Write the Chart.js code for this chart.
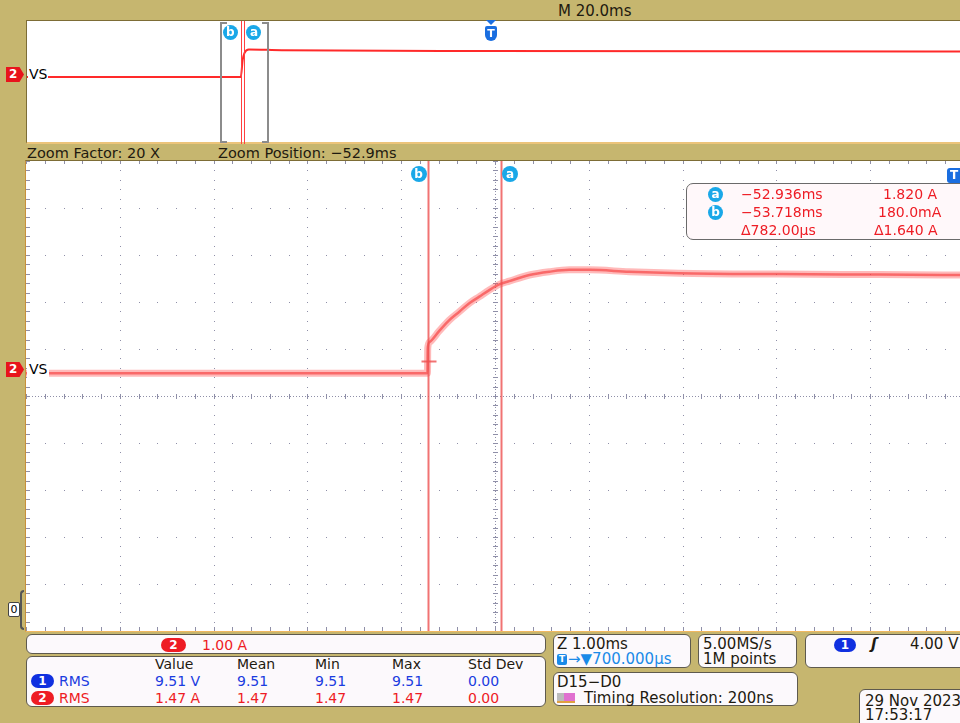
<!DOCTYPE html>
<html>
<head>
<meta charset="utf-8">
<script src="https://cdn.jsdelivr.net/npm/chart.js@4.4.0/dist/chart.umd.min.js"></script>
<style>
  body { margin:0; width:960px; height:723px; overflow:hidden; background:#c6b66f;
         font-family:"DejaVu Sans", sans-serif; position:relative; }
  .abs { position:absolute; white-space:nowrap; }
  .t14 { font-size:14px; line-height:16px; }
  .t15 { font-size:15px; line-height:17px; }
  .panel { position:absolute; background:#fcf9fc; border:1px solid #5e5a4e; border-radius:6px; box-sizing:border-box; }
  .cur { position:absolute; width:15px; height:15px; border-radius:50%; background:#1aa8e8; color:#fff;
         font:bold 12px/14px "DejaVu Sans", sans-serif; text-align:center; }
  .tag { position:absolute; width:18px; height:15px; background:#e8141c; color:#fff;
         font:bold 12px/15px "DejaVu Sans", sans-serif; padding-left:3px; box-sizing:border-box;
         clip-path:polygon(0 0, 75% 0, 100% 50%, 75% 100%, 0 100%); }
  .pill { position:absolute; height:14px; border-radius:7px; color:#fff; text-align:center;
          font:bold 12px/14px "DejaVu Sans", sans-serif; }
  .red { color:#ee1c24; } .blue { color:#1a3ce0; } .lblue { color:#1a8ae8; } .dark { color:#1e1a10; }
</style>
</head>
<body>
<!-- top bar -->
<div class="abs t15 dark" style="left:558px;top:3px;">M 20.0ms</div>

<!-- overview window -->
<div class="abs" style="left:26px;top:20px;width:940px;height:124px;background:#fff;border-top:1px solid #7d6d36;border-left:1px solid #7d6d36;border-bottom:2px solid #ecc47a;box-sizing:border-box;"></div>
<div class="abs" style="left:27px;top:21px;"><canvas id="overview" width="938" height="123"></canvas></div>
<div class="tag" style="left:6px;top:67px;">2</div>
<div class="abs t14" style="left:28px;top:66px;background:#fff;padding:0 1px;">VS</div>
<div class="abs" style="left:486px;top:20px;width:0;height:0;border-left:5px solid transparent;border-right:5px solid transparent;border-top:5px solid #1a6ee0;"></div>
<div class="abs" style="left:485px;top:26px;width:12px;height:15px;background:#1a6ee0;border-radius:2px 2px 6px 6px;color:#fff;font:bold 11px/15px 'DejaVu Sans';text-align:center;">T</div>
<div class="cur" id="ovB">b</div>
<div class="cur" id="ovA">a</div>

<!-- zoom info bar -->
<div class="abs dark" style="left:27px;top:145px;font-size:14.5px;line-height:17px;">Zoom Factor: 20 X</div>
<div class="abs dark" style="left:218px;top:145px;font-size:14.5px;line-height:17px;">Zoom Position: &minus;52.9ms</div>

<!-- main zoom window -->
<div class="abs" style="left:25px;top:160px;width:945px;height:472px;background:#fff;border-top:1px solid #7d6d36;border-left:1px solid #c8903a;border-bottom:1px solid #f0b860;box-sizing:border-box;"></div>
<div class="abs" style="left:26px;top:161px;"><canvas id="zoomChart" width="938" height="470"></canvas></div>
<div class="tag" style="left:6px;top:362px;">2</div>
<div class="abs t14" style="left:27px;top:361px;background:#fff;padding:0 2px 1px 2px;">VS</div>
<div class="cur" id="mainB" style="width:16px;height:16px;line-height:16px;">b</div>
<div class="cur" id="mainA" style="width:16px;height:16px;line-height:16px;">a</div>
<div class="abs" style="left:947px;top:168px;width:16px;height:15px;background:#1a6ee0;border-radius:3px;color:#fff;font:bold 12px/15px 'DejaVu Sans';padding-left:3px;box-sizing:border-box;">T</div>

<!-- cursor readout -->
<div class="panel" style="left:686px;top:183px;width:290px;height:57px;border-color:#6a6a6a;border-radius:7px;background:#fff8fa;"></div>
<div class="cur" style="left:708px;top:187px;">a</div>
<div class="cur" style="left:708px;top:205px;">b</div>
<div class="abs t14 red" style="left:741px;top:186px;">&minus;52.936ms</div>
<div class="abs t14 red" style="left:883px;top:186px;">1.820 A</div>
<div class="abs t14 red" style="left:741px;top:204px;">&minus;53.718ms</div>
<div class="abs t14 red" style="left:878px;top:204px;">180.0mA</div>
<div class="abs t14 red" style="left:741px;top:222px;">&Delta;782.00&micro;s</div>
<div class="abs t14 red" style="left:874px;top:222px;">&Delta;1.640 A</div>

<!-- digital group marker -->
<div class="abs" style="left:8px;top:602px;width:12px;height:15px;background:#fff;border:1px solid #444;border-radius:2px;box-sizing:border-box;font:11px/13px 'DejaVu Sans';text-align:center;">0</div>
<div class="abs" style="left:20px;top:590px;width:4px;height:40px;border:2px solid #555;border-right:none;border-radius:4px 0 0 4px;box-sizing:border-box;"></div>

<!-- bottom panels -->
<div class="panel" style="left:26px;top:634px;width:520px;height:20px;"></div>
<div class="pill" style="left:161px;top:638px;width:25px;background:#ee1c24;">2</div>
<div class="abs t14 red" style="left:202px;top:637px;">1.00 A</div>

<div class="panel" id="statPanel" style="left:26px;top:656px;width:520px;height:51px;"></div>

<div class="panel" style="left:553px;top:634px;width:138px;height:34px;"></div>
<div class="abs t15 dark" style="left:557px;top:636px;">Z 1.00ms</div>
<div class="abs" style="left:557px;top:654px;width:10px;height:11px;background:#1a8ae8;color:#fff;font:bold 9px/11px 'DejaVu Sans';text-align:center;border-radius:2px;">T</div>
<div class="abs t15 lblue" style="left:568px;top:651px;">&rarr;&#9660;700.000&micro;s</div>

<div class="panel" style="left:698px;top:634px;width:99px;height:34px;"></div>
<div class="abs t15 dark" style="left:703px;top:636px;">5.00MS/s</div>
<div class="abs t15 dark" style="left:703px;top:651px;">1M points</div>

<div class="panel" style="left:805px;top:634px;width:170px;height:34px;"></div>
<div class="pill" style="left:834px;top:638px;width:22px;background:#1030e0;">1</div>
<div class="abs t15 dark" style="left:871px;top:636px;font-style:italic;font-weight:bold;">&#643;</div>
<div class="abs t15 dark" style="left:910px;top:636px;">4.00 V</div>

<div class="panel" style="left:553px;top:672px;width:245px;height:34px;"></div>
<div class="abs t15 dark" style="left:557px;top:674px;">D15&minus;D0</div>
<div class="abs" style="left:557px;top:693px;width:18px;height:10px;background:linear-gradient(90deg,#bbb 0 40%,#e070d0 40% 100%);border-bottom:2px solid #e0a040;box-sizing:border-box;"></div>
<div class="abs t15 dark" style="left:584px;top:690px;">Timing Resolution: 200ns</div>

<div class="panel" style="left:859px;top:689px;width:120px;height:40px;"></div>
<div class="abs t15 dark" style="left:865px;top:693px;">29 Nov 2023</div>
<div class="abs t15 dark" style="left:865px;top:707px;">17:53:17</div>

<script>
// zoomed window (Z 1.00ms/div, ch2 1.00 A/div)
const zoomTime = [-58.0, -56.0, -54.5, -53.72, -53.717, -53.700, -53.594, -53.487, -53.380, -53.274, -53.167, -53.061, -52.954, -52.848, -52.634, -52.421, -52.208, -51.99, -51.57, -51.04, -49.97, -48.9, -48.0];
const zoomAmps = [-0.08, -0.08, -0.08, -0.08, 0.45, 0.58, 0.82, 1.05, 1.23, 1.41, 1.55, 1.69, 1.81, 1.88, 2.01, 2.08, 2.12, 2.12, 2.08, 2.05, 2.03, 2.02, 2.01];

// full record (M 20.0ms/div)
const ovTime = [-99.3, -53.72, -53.3, -52.94, -52.0, -45.0, 0.0, 50.0, 100.7];
const ovAmps = [-0.12, -0.12, 1.30, 1.82, 2.12, 2.06, 2.0, 1.97, 1.95];

// cursors a and b
const cursorNames = ['a', 'b'];
const cursorTimes = [-52.936, -53.718];
const cursorAmps = [1.820, 0.180];

// zoom window in the record, ms
const zoomWindow = [-58.0, -48.0];
const recordWindow = [-99.3, 100.7];
// ch2 vertical range shown, A
const ampRange = [-5.564, 4.436];

// measurement table
const statHeads = ['Value', 'Mean', 'Min', 'Max', 'Std Dev'];
const ch1Stats = ['9.51 V', '9.51', '9.51', '9.51', '0.00'];
const ch2Stats = ['1.47 A', '1.47', '1.47', '1.47', '0.00'];

const statCols = [155, 237, 315, 392, 468];
function addText(txt, x, y, cls) {
    var d = document.createElement('div');
    d.className = 'abs t14 ' + cls;
    d.style.left = x + 'px';
    d.style.top = y + 'px';
    d.textContent = txt;
    document.body.appendChild(d);
}
statHeads.forEach((h, i) => addText(h, statCols[i], 656, 'dark'));
statCols.forEach((x, i) => {
    addText(ch1Stats[i], x, 673, 'blue');
    addText(ch2Stats[i], x, 690, 'red');
});
[['1', '#1030e0', 674, 'blue'], ['2', '#ee1c24', 691, 'red']].forEach(r => {
    var p = document.createElement('div');
    p.className = 'pill';
    p.style.cssText = 'left:31px;top:' + r[2] + 'px;width:23px;background:' + r[1] + ';';
    p.textContent = r[0];
    document.body.appendChild(p);
    addText('RMS', 59, r[2] - 1, r[3]);
});

// scope graticule: 10 x 10 divisions, dotted at 1/5 div
const graticule = {
    id: 'graticule',
    beforeDatasetsDraw(chart) {
        const {ctx, scales: {x, y}} = chart;
        const X = k => Math.round(x.getPixelForValue(x.min + k * (x.max - x.min) / 10));
        const Y = k => Math.round(y.getPixelForValue(y.max - k * (y.max - y.min) / 10));
        ctx.save();
        ctx.fillStyle = '#8f8fa8';
        for (let i = 1; i < 10; i++) {
            for (let j = 0; j <= 50; j++) {
                ctx.fillRect(X(i), Y(j / 5), 1, 1);
                ctx.fillRect(X(j / 5), Y(i), 1, 1);
            }
        }
        const cx = X(5), cy = Y(5);
        for (let p = X(0); p < X(10); p += 3) ctx.fillRect(p, cy, 1, 1);
        for (let p = Y(0); p < Y(10); p += 3) ctx.fillRect(cx, p, 1, 1);
        for (let j = 0; j <= 50; j++) {
            ctx.fillRect(X(j / 5), cy - 2, 1, 5);
            ctx.fillRect(cx - 2, Y(j / 5), 5, 1);
            ctx.fillRect(X(0), Y(j / 5), 4, 1);
            ctx.fillRect(X(j / 5), Y(10) - 4, 1, 4);
            ctx.fillRect(X(j / 5), Y(0), 1, 3);
        }
        ctx.restore();
    }
};

const cursors = {
    id: 'cursors',
    afterDatasetsDraw(chart, args, opts) {
        const {ctx, chartArea: a, scales: {x, y}} = chart;
        ctx.save();
        ctx.strokeStyle = opts.color;
        ctx.lineWidth = opts.width;
        cursorTimes.forEach((t, i) => {
            const px = Math.round(x.getPixelForValue(t)) + 0.5;
            ctx.beginPath();
            ctx.moveTo(px, a.top);
            ctx.lineTo(px, a.bottom);
            ctx.stroke();
            if (opts.levels && i === 1) {
                const py = Math.round(y.getPixelForValue(cursorAmps[i])) + 0.5;
                ctx.beginPath();
                ctx.moveTo(px - 7, py);
                ctx.lineTo(px + 8, py);
                ctx.stroke();
            }
        });
        if (opts.brackets) {
            ctx.strokeStyle = '#8c8c8c';
            ctx.lineWidth = 2;
            zoomWindow.forEach((t, i) => {
                const px = Math.round(x.getPixelForValue(t));
                const d = i === 0 ? 6 : -6;
                ctx.beginPath();
                ctx.moveTo(px + d, a.top + 2);
                ctx.lineTo(px, a.top + 2);
                ctx.lineTo(px, a.bottom - 2);
                ctx.lineTo(px + d, a.bottom - 2);
                ctx.stroke();
            });
        }
        ctx.restore();
    }
};

function scopeOptions(xr, curOpts) {
    return {
        responsive: false,
        animation: false,
        events: [],
        layout: { padding: 0 },
        elements: { point: { radius: 0 } },
        plugins: {
            legend: { display: false },
            tooltip: { enabled: false },
            cursors: curOpts
        },
        scales: {
            x: { type: 'linear', display: false, min: xr[0], max: xr[1] },
            y: { type: 'linear', display: false, min: ampRange[0], max: ampRange[1] }
        }
    };
}

const zoomChart = new Chart(document.getElementById('zoomChart').getContext('2d'), {
    type: 'line',
    data: {
        datasets: [
            {
                label: 'VS band',
                data: zoomTime.map((t, i) => ({x: t, y: zoomAmps[i]})),
                borderColor: 'rgba(255,90,90,0.42)',
                borderWidth: 7,
                cubicInterpolationMode: 'monotone'
            },
            {
                label: 'VS',
                data: zoomTime.map((t, i) => ({x: t, y: zoomAmps[i]})),
                borderColor: 'rgba(240,40,40,0.65)',
                borderWidth: 2.5,
                cubicInterpolationMode: 'monotone'
            }
        ]
    },
    options: scopeOptions(zoomWindow, { color: 'rgba(238,80,80,0.8)', width: 2, levels: true }),
    plugins: [graticule, cursors]
});

const overview = new Chart(document.getElementById('overview').getContext('2d'), {
    type: 'line',
    data: {
        datasets: [{
            label: 'VS',
            data: ovTime.map((t, i) => ({x: t, y: ovAmps[i]})),
            borderColor: '#ff2a2a',
            borderWidth: 2,
            cubicInterpolationMode: 'monotone'
        }]
    },
    options: scopeOptions(recordWindow, { color: '#ff4040', width: 1, brackets: true }),
    plugins: [cursors]
});

// cursor flags placed from the chart scales
function flag(id, chart, t, dx, top, left0) {
    const el = document.getElementById(id);
    el.style.left = (left0 + chart.scales.x.getPixelForValue(t) + dx) + 'px';
    el.style.top = top + 'px';
}
flag('mainA', zoomChart, cursorTimes[0], 1, 166, 26);
flag('mainB', zoomChart, cursorTimes[1], -17, 166, 26);
flag('ovA', overview, cursorTimes[0], 2, 25, 27);
flag('ovB', overview, cursorTimes[1], -18, 25, 27);
</script>
</body>
</html>
